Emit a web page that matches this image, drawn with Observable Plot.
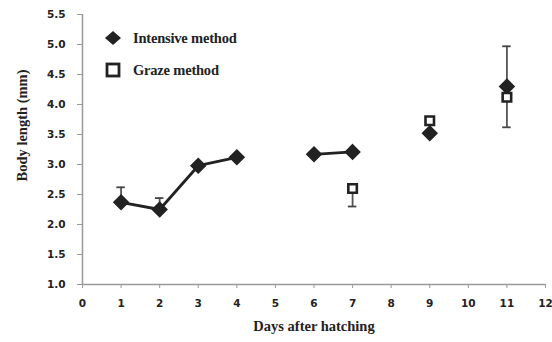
<!DOCTYPE html>
<html><head><meta charset="utf-8">
<script src="https://cdn.jsdelivr.net/npm/d3@7"></script>
<script src="https://cdn.jsdelivr.net/npm/@observablehq/plot@0.6"></script>
<style>
body{margin:0;background:#fff;}
#wrap{position:relative;width:552px;height:342px;}
#legend{position:absolute;left:102px;top:22px;font-family:"Liberation Serif",serif;font-weight:bold;font-size:14.5px;color:#222;letter-spacing:-0.2px;}
#legend div{display:flex;align-items:center;height:32px;}
#legend svg{margin-right:9px;}
</style></head>
<body><div id="wrap"><div id="chart"></div>
<div id="legend">
<div><svg width="22" height="16"><path d="M11,1 L19,8 L11,15 L3,8Z" fill="#222"/></svg>Intensive method</div>
<div><svg width="22" height="16"><rect x="5" y="2" width="12" height="12" fill="#fff" stroke="#222" stroke-width="2.8"/></svg>Graze method</div>
</div></div>
<script>
const intensiveDays = [1, 2, 3, 4, 6, 7, 9, 11];
const intensiveValues = [2.37, 2.25, 2.98, 3.12, 3.17, 3.21, 3.52, 4.30];
const intensiveUpper = [2.62, 2.44, 2.98, 3.12, 3.17, 3.21, 3.52, 4.97];
const intensiveSegment = ["a", "a", "a", "a", "b", "b", "c", "d"];
const grazeDays = [7, 9, 11];
const grazeValues = [2.60, 3.73, 4.12];
const grazeLower = [2.30, 3.73, 3.62];
const xTicks = [0,1,2,3,4,5,6,7,8,9,10,11,12];
const yTicks = [1.0,1.5,2.0,2.5,3.0,3.5,4.0,4.5,5.0,5.5];

const intensive = intensiveDays.map((d,i)=>({day:d, v:intensiveValues[i], hi:intensiveUpper[i], seg:intensiveSegment[i]}));
const graze = grazeDays.map((d,i)=>({day:d, v:grazeValues[i], lo:grazeLower[i]}));
const errs = [
  ...intensive.filter(d=>d.hi!==d.v).map(d=>({day:d.day, a:d.v, b:d.hi})),
  ...graze.filter(d=>d.lo!==d.v).map(d=>({day:d.day, a:d.lo, b:d.v}))
];
const caps = [
  ...intensive.filter(d=>d.hi!==d.v).map(d=>({day:d.day, y:d.hi})),
  ...graze.filter(d=>d.lo!==d.v).map(d=>({day:d.day, y:d.lo}))
];

const chart = Plot.plot({
  width: 552, height: 342,
  marginLeft: 82, marginRight: 7, marginTop: 14, marginBottom: 58,
  style: {fontFamily: "DejaVu Sans", fontSize: "10.5px", fontWeight: "bold", color: "#222", background: "#fff"},
  x: {domain: [0, 12]},
  y: {domain: [1, 5.5]},
  marks: [
    Plot.axisX({ticks: xTicks, tickSize: 4, tickPadding: 11, stroke: "#999", tickFormat: d3.format("d"),
      label: "Days after hatching", labelAnchor: "center", labelOffset: 46, labelArrow: "none"}),
    Plot.axisY({ticks: yTicks, tickSize: 5, tickPadding: 12, stroke: "#999", tickFormat: d3.format(".1f"),
      label: "Body length (mm)", labelAnchor: "center", labelOffset: 66, labelArrow: "none"}),
    Plot.ruleY([1], {stroke: "#999", strokeWidth: 1.5}),
    Plot.ruleX([0], {stroke: "#999", strokeWidth: 1.5}),
    Plot.ruleX(errs, {x: "day", y1: "a", y2: "b", stroke: "#555", strokeWidth: 1.8}),
    Plot.ruleY(caps, {y: "y", x1: d => d.day - 0.11, x2: d => d.day + 0.11, stroke: "#444", strokeWidth: 1.8}),
    Plot.line(intensive, {x: "day", y: "v", z: "seg", stroke: "#222", strokeWidth: 2.8}),
    Plot.dot(intensive, {x: "day", y: "v", symbol: "diamond2", r: 6.5, fill: "#222", stroke: "#222"}),
    Plot.dot(graze, {x: "day", y: "v", symbol: "square", r: 4.8, fill: "#fff", stroke: "#222", strokeWidth: 2.6})
  ]
});
document.getElementById("chart").appendChild(chart);
chart.querySelectorAll("g[aria-label='x-axis label'] text, g[aria-label='y-axis label'] text").forEach(t=>{
  t.setAttribute("font-family","Liberation Serif"); t.setAttribute("font-size","14.5");
});
chart.querySelectorAll("g[aria-label='y-axis label'] text").forEach(t=>t.setAttribute("dx","24"));
</script></body></html>
